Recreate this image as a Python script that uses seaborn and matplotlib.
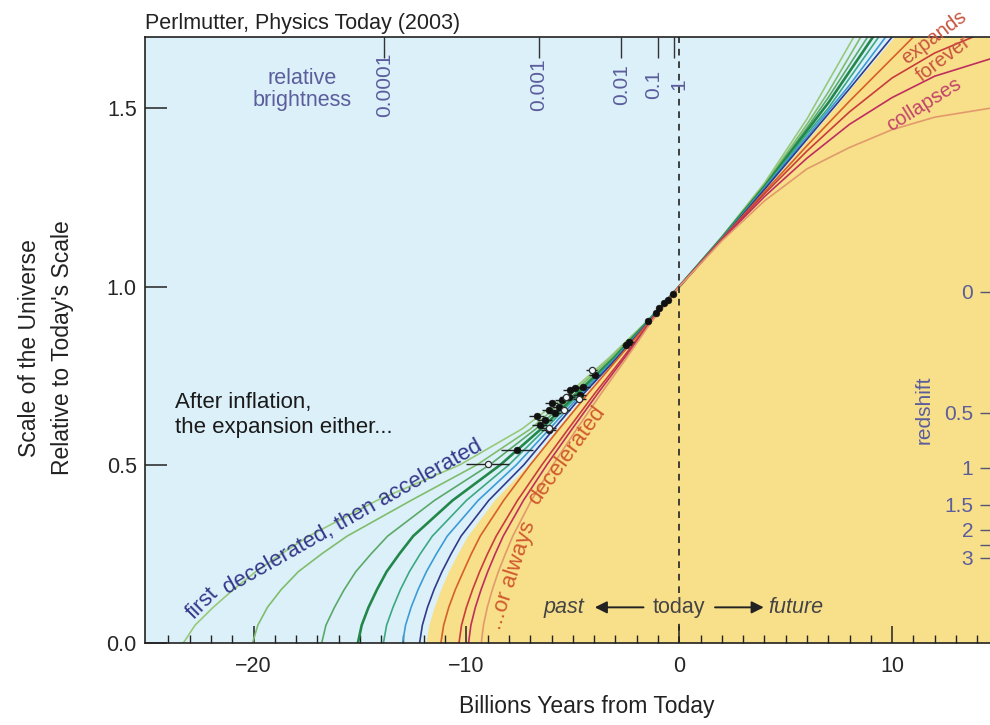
import matplotlib
matplotlib.use("Agg")
import matplotlib.pyplot as plt
from matplotlib.ticker import FormatStrFormatter
import seaborn as sns

levels = [0, 0.05, 0.1, 0.15, 0.2, 0.25, 0.3, 0.4, 0.5, 0.6, 0.7, 0.8, 0.9, 1.0]

# time (Gyr from today) at which each curve reaches the scale in `levels`
g1_past = [-23.3, -22.75, -21.9, -20.95, -19.9, -18.7, -17.4, -14.2, -10.3, -7.4, -5.2, -3.3, -1.56, 0]
g2_past = [-20.05, -19.8, -19.35, -18.7, -17.9, -16.8, -15.6, -12.6, -9.5, -7.0, -5.05, -3.2, -1.54, 0]
g3_past = [-16.8, -16.6, -16.2, -15.74, -15.2, -14.48, -13.7, -11.5, -8.9, -6.75, -4.9, -3.1, -1.52, 0]
g4_past = [-15.1, -14.92, -14.6, -14.2, -13.75, -13.15, -12.5, -10.65, -8.4, -6.5, -4.78, -3.05, -1.5, 0]
g5_past = [-13.9, -13.75, -13.45, -13.1, -12.68, -12.17, -11.6, -10.0, -8.0, -6.3, -4.68, -3.0, -1.48, 0]
g6_past = [-13.0, -12.86, -12.6, -12.27, -11.88, -11.41, -10.9, -9.45, -7.65, -6.1, -4.58, -2.96, -1.46, 0]
g7_past = [-12.2, -12.07, -11.83, -11.52, -11.15, -10.72, -10.25, -8.95, -7.3, -5.9, -4.48, -2.92, -1.45, 0]
edge_past = [-11.9, -11.77, -11.52, -11.21, -10.85, -10.42, -9.95, -8.7, -7.1, -5.75, -4.4, -2.88, -1.44, 0]
r1_past = [-11.2, -11.07, -10.83, -10.52, -10.15, -9.77, -9.35, -8.25, -7.0, -5.65, -4.28, -2.85, -1.42, 0]
r2_past = [-10.35, -10.23, -10.0, -9.71, -9.38, -9.01, -8.6, -7.6, -6.45, -5.22, -3.97, -2.65, -1.38, 0]
r3_past = [-9.9, -9.79, -9.58, -9.31, -9.0, -8.65, -8.27, -7.32, -6.22, -5.04, -3.83, -2.57, -1.35, 0]
r4_past = [-9.3, -9.2, -9.02, -8.78, -8.5, -8.17, -7.82, -6.95, -5.93, -4.82, -3.67, -2.47, -1.32, 0]

# future branches (time, scale)
g1_fut_x = [0, 2, 4, 6, 7, 8.2]
g1_fut_y = [1, 1.14, 1.29, 1.47, 1.575, 1.70]
g2_fut_x = [0, 2, 4, 6, 7, 8.53]
g2_fut_y = [1, 1.138, 1.285, 1.455, 1.545, 1.70]
g3_fut_x = [0, 2, 4, 6, 7, 8.85]
g3_fut_y = [1, 1.137, 1.282, 1.445, 1.53, 1.70]
g4_fut_x = [0, 2, 4, 6, 7, 9.1]
g4_fut_y = [1, 1.136, 1.28, 1.437, 1.515, 1.70]
g5_fut_x = [0, 2, 4, 6, 7, 9.37]
g5_fut_y = [1, 1.135, 1.277, 1.428, 1.50, 1.70]
g6_fut_x = [0, 2, 4, 6, 8, 9.7]
g6_fut_y = [1, 1.134, 1.275, 1.42, 1.565, 1.70]
g7_fut_x = [0, 2, 4, 6, 8, 10.0]
g7_fut_y = [1, 1.133, 1.272, 1.413, 1.555, 1.70]
edge_fut_x = [0, 2, 4, 6, 8, 10.1]
edge_fut_y = [1, 1.132, 1.27, 1.41, 1.552, 1.70]
r1_fut_x = [0, 2, 4, 6, 8, 10, 11.0]
r1_fut_y = [1, 1.133, 1.265, 1.395, 1.52, 1.64, 1.70]
r2_fut_x = [0, 2, 4, 6, 8, 10, 12, 13.8]
r2_fut_y = [1, 1.132, 1.26, 1.38, 1.49, 1.585, 1.655, 1.70]
r3_fut_x = [0, 2, 4, 6, 8, 10, 12, 14.8]
r3_fut_y = [1, 1.131, 1.252, 1.36, 1.455, 1.53, 1.59, 1.642]
r4_fut_x = [0, 2, 4, 6, 8, 10, 12, 14.8]
r4_fut_y = [1, 1.128, 1.24, 1.33, 1.39, 1.44, 1.475, 1.502]

# supernovae
sn_x = [-0.28, -0.52, -0.7, -0.94, -1.08, -1.45, -2.34, -2.48, -3.98, -4.5, -4.9, -5.15,
        -4.68, -5.2, -5.53, -6.0, -5.67, -6.14, -5.85, -6.7, -6.32, -6.56, -6.14, -7.63]
sn_y = [0.978, 0.963, 0.955, 0.94, 0.927, 0.902, 0.843, 0.837, 0.753, 0.719, 0.716, 0.71,
        0.697, 0.69, 0.683, 0.674, 0.663, 0.654, 0.646, 0.638, 0.626, 0.612, 0.598, 0.54]
sn_xerr = [0.1, 0.1, 0.1, 0.1, 0.1, 0.12, 0.2, 0.2, 0.25, 0.3, 0.3, 0.3,
           0.3, 0.3, 0.3, 0.3, 0.3, 0.3, 0.3, 0.35, 0.35, 0.35, 0.35, 0.75]
open_x = [-4.12, -5.3, -4.7, -5.43, -6.14, -9.0]
open_y = [0.765, 0.69, 0.685, 0.654, 0.604, 0.502]
open_xerr = [0.25, 0.3, 0.3, 0.3, 0.35, 1.0]

# relative brightness (top) and redshift (right) scales
brightness_x = [-13.86, -6.6, -2.72, -1.0, -0.25]
brightness_label_x = [-13.86, -6.6, -2.72, -1.2, 0.0]
brightness_labels = ["0.0001", "0.001", "0.01", "0.1", "1"]
redshift_y = [0.986, 0.646, 0.492, 0.388, 0.317, 0.275, 0.239]
redshift_labels = ["0", "0.5", "1", "1.5", "2", "", "3"]

X_MIN, X_MAX = -25.1, 14.6
Y_MIN, Y_MAX = 0.0, 1.70

BLUE_BG = "#dcf0f9"
YELLOW_BG = "#f8df8a"
SLATE = "#5b5d9c"

curves = [
    (g1_past, g1_fut_x, g1_fut_y, "#98c97a", 1.2),
    (g2_past, g2_fut_x, g2_fut_y, "#7fbd6c", 1.2),
    (g3_past, g3_fut_x, g3_fut_y, "#5aa968", 1.2),
    (g4_past, g4_fut_x, g4_fut_y, "#23874a", 1.9),
    (g5_past, g5_fut_x, g5_fut_y, "#3aa882", 1.2),
    (g6_past, g6_fut_x, g6_fut_y, "#3c9bd6", 1.2),
    (g7_past, g7_fut_x, g7_fut_y, "#2f3a8a", 1.2),
    (r1_past, r1_fut_x, r1_fut_y, "#d6602a", 1.2),
    (r2_past, r2_fut_x, r2_fut_y, "#c83c3c", 1.2),
    (r3_past, r3_fut_x, r3_fut_y, "#be2e5e", 1.2),
    (r4_past, r4_fut_x, r4_fut_y, "#e29a6c", 1.2),
]

sns.set_style("ticks")
plt.rcParams['font.family'] = ['Liberation Sans', 'DejaVu Sans']

fig = plt.figure(figsize=(9.9, 7.25), dpi=100)
ax = fig.add_axes([0.1465, 0.1131, 0.8535, 0.8359])
ax.set_facecolor(BLUE_BG)

# decelerating region
edge_x = edge_past + edge_fut_x[1:]
edge_y = levels + edge_fut_y[1:]
ax.fill_betweenx(edge_y, edge_x, X_MAX + 1, color=YELLOW_BG, lw=0, zorder=0)

for past, fx, fy, col, lw in curves:
    xs = past + fx[1:]
    ys = levels + fy[1:]
    sns.lineplot(x=xs, y=ys, sort=False, estimator=None, color=col, lw=lw, ax=ax, zorder=2)

ax.axvline(0, color="#222222", ls=(0, (4, 3.5)), lw=1.2, zorder=3)

# data points
ax.errorbar(sn_x, sn_y, xerr=sn_xerr, fmt="none", ecolor="#222222", elinewidth=1.0, zorder=4)
ax.errorbar(open_x, open_y, xerr=open_xerr, fmt="none", ecolor="#222222", elinewidth=1.0, zorder=4)
sns.scatterplot(x=sn_x, y=sn_y, color="#111111", s=24, edgecolor="#111111", ax=ax, zorder=5)
sns.scatterplot(x=open_x, y=open_y, color="#eef7fb", s=20, edgecolor="#333333", linewidth=0.9,
                ax=ax, zorder=5)

ax.set_xlim(X_MIN, X_MAX)
ax.set_ylim(Y_MIN, Y_MAX)
ax.set_xticks([-20, -10, 0, 10])
ax.set_xticks(range(-24, 15), minor=True)
ax.set_yticks([0, 0.5, 1.0, 1.5])
ax.yaxis.set_major_formatter(FormatStrFormatter("%.1f"))
ax.tick_params(axis="x", which="major", direction="in", length=12, width=1.1,
               labelsize=15.5, pad=9, color="#222222")
ax.tick_params(axis="x", which="minor", direction="in", length=6, width=1.0, color="#222222")
ax.tick_params(axis="y", which="major", direction="in", length=16, width=1.1,
               labelsize=15.5, pad=6, color="#222222")
for side in ["left", "bottom", "top"]:
    ax.spines[side].set_linewidth(1.2)
    ax.spines[side].set_color("#222222")
ax.spines["right"].set_visible(False)

ax.set_xlabel("Billions Years from Today", fontsize=16.5, color="#222222")
ax.xaxis.set_label_coords(0.523, -0.085)
ax.set_ylabel("Scale of the Universe\nRelative to Today's Scale", fontsize=16.5,
              color="#222222", linespacing=1.55)
ax.yaxis.set_label_coords(-0.084, 0.487)
ax.set_title("Perlmutter, Physics Today (2003)", loc="left", pad=6, fontsize=15.5,
             color="#222222")

# top: relative brightness
top = ax.secondary_xaxis("top")
top.set_xticks(brightness_x, labels=[""] * len(brightness_x))
top.tick_params(direction="in", length=15, width=1.0, color="#333333")
top.spines["top"].set_visible(False)
for bx, lab in zip(brightness_label_x, brightness_labels):
    ax.text(bx, 1.567, lab, rotation=90, ha="center", va="center", fontsize=15,
            color=SLATE, zorder=6)
ax.text(-17.7, 1.553, "relative\nbrightness", ha="center", va="center", fontsize=15.5,
        color=SLATE, linespacing=1.1)

# right: redshift
right = ax.secondary_yaxis("right")
right.set_yticks(redshift_y, labels=redshift_labels)
right.tick_params(direction="in", length=7, width=1.0, pad=-12, labelsize=15,
                  labelcolor=SLATE, color="#555577")
for t in right.get_yticklabels():
    t.set_horizontalalignment("right")
right.spines["right"].set_visible(False)
ax.text(0.922, 0.655, "redshift", rotation=90, ha="center", va="center", fontsize=15,
        color=SLATE, transform=ax.get_yaxis_transform())

# annotations
ax.text(-23.7, 0.705, "After inflation,\nthe expansion either...", ha="left", va="top",
        fontsize=16, color="#1a1a1a", linespacing=1.3)
ax.text(-22.4, 0.112, "first", rotation=45, rotation_mode="anchor", ha="center",
        va="center", fontsize=16, color="#34378a")
ax.text(-15.35, 0.353, "decelerated, then accelerated", rotation=29.5, rotation_mode="anchor",
        ha="center", va="center", fontsize=16, color="#34378a")
ax.text(-7.85, 0.19, "...or always", rotation=72, rotation_mode="anchor", ha="center",
        va="center", fontsize=16, color="#cf5a2e")
ax.text(-5.3, 0.525, "decelerated", rotation=54, rotation_mode="anchor", ha="center",
        va="center", fontsize=16, color="#cf5a2e")
ax.text(11.95, 1.70, "expands", rotation=37, rotation_mode="anchor", ha="center",
        va="center", fontsize=14.5, color="#c8553f", clip_on=False)
ax.text(12.4, 1.638, "forever", rotation=37, rotation_mode="anchor", ha="center",
        va="center", fontsize=14.5, color="#c8553f")
ax.text(11.5, 1.511, "collapses", rotation=32, rotation_mode="anchor", ha="center",
        va="center", fontsize=14.5, color="#c2456a")

ax.text(-5.43, 0.10, "past", style="italic", ha="center", va="center", fontsize=15.5,
        color="#444444")
ax.text(0, 0.10, "today", ha="center", va="center", fontsize=15.5, color="#444444",
        bbox=dict(facecolor=YELLOW_BG, edgecolor="none", pad=1.5), zorder=6)
ax.text(5.48, 0.10, "future", style="italic", ha="center", va="center", fontsize=15.5,
        color="#444444")
arrow = dict(arrowstyle="-|>", color="#222222", lw=1.4, mutation_scale=18)
ax.annotate("", xy=(-4.1, 0.10), xytext=(-1.55, 0.10), arrowprops=arrow)
ax.annotate("", xy=(4.1, 0.10), xytext=(1.55, 0.10), arrowprops=arrow)

fig.savefig("out.png", dpi=100)
